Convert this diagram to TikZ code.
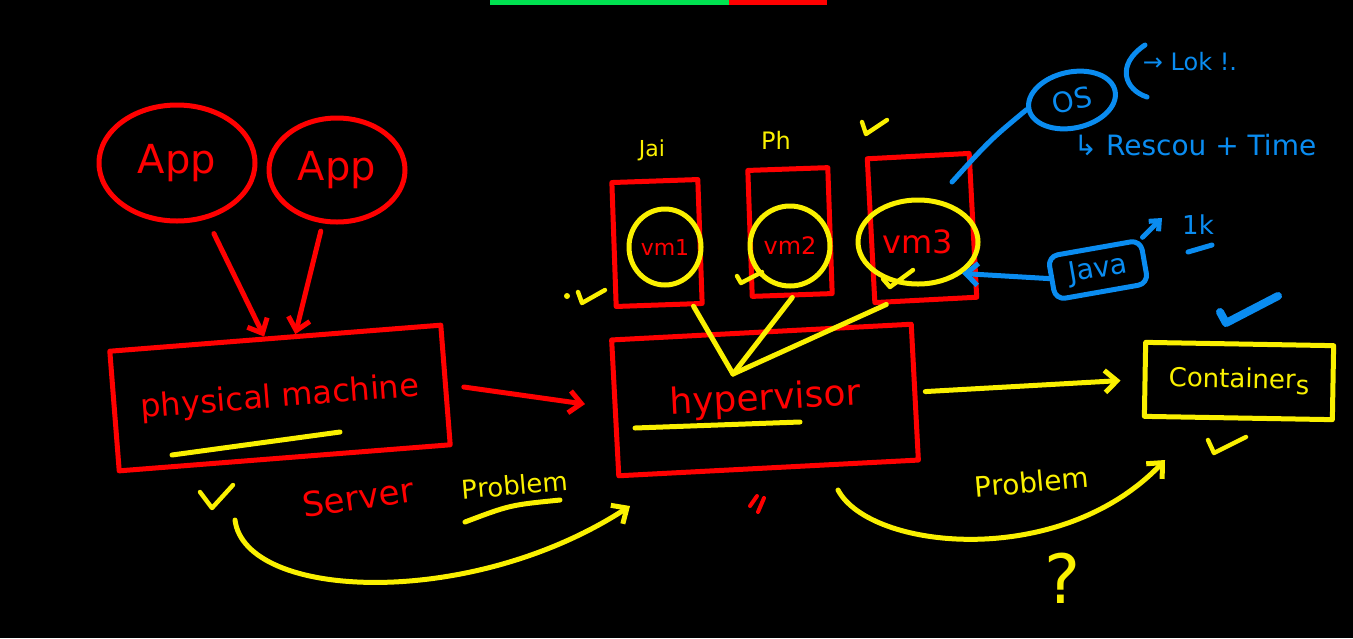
\documentclass[tikz,border=0pt]{standalone}
\usepackage{fontspec}
\setmainfont{DejaVu Sans}
\usetikzlibrary{shapes.geometric,arrows.meta}
\definecolor{inkred}{RGB}{255,0,0}
\definecolor{inkyellow}{RGB}{250,240,0}
\definecolor{inkblue}{RGB}{10,140,240}
\definecolor{bargreen}{RGB}{0,225,80}
\newcommand{\fs}[1]{\fontsize{#1}{#1}\selectfont}
\tikzset{
  pen/.style={line width=2.5pt, line cap=round, line join=round},
  redpen/.style={pen, draw=inkred},
  yellowpen/.style={pen, draw=inkyellow},
  bluepen/.style={pen, draw=inkblue},
  barb/.style={-{Straight Barb[length=6pt,width=11pt]}},
  box/.style={rectangle, inner sep=0pt},
  ball/.style={ellipse, inner sep=0pt},
  checkstroke/.style={pen, line width=2.2pt},
}
\begin{document}
\begin{tikzpicture}[x=0.5pt,y=-0.5pt]
\useasboundingbox (0,0) rectangle (1353,638);
\fill[black] (0,0) rectangle (1353,638);
\fill[bargreen] (490,0) rectangle (729,5);
\fill[inkred] (729,0) rectangle (827,5);

\node[ball, redpen, minimum width=78pt, minimum height=58pt, text=inkred, font=\fs{20}] (app1) at (177,163) {App};
\node[ball, redpen, minimum width=68pt, minimum height=52pt, text=inkred, font=\fs{20}] (app2) at (337,170) {App};
\node[box, redpen, rotate=4.5, minimum width=166pt, minimum height=60pt, text=inkred, font=\fs{16}] (phys) at (280,398) {physical machine};
\draw[yellowpen] (172,455) -- (340,432);
\draw[redpen, barb, shorten <=8pt] (app1.-62) -- (phys.100);
\draw[redpen, barb, shorten <=4pt] (app2.-105) -- (phys.72);

\node[box, redpen, rotate=3, minimum width=150pt, minimum height=68pt, text=inkred, font=\fs{18}] (hyper) at (765,400) {hypervisor};
\draw[yellowpen] (635,428) -- (800,422);
\draw[redpen, barb, shorten <=8pt, shorten >=14pt] (phys.east) -- (hyper.west);

\node[box, redpen, rotate=2, minimum width=43pt, minimum height=62pt] (vm1box) at (657,243) {};
\node[box, redpen, rotate=2, minimum width=40pt, minimum height=63pt] (vm2box) at (790,232) {};
\node[box, redpen, rotate=3, minimum width=51pt, minimum height=72pt] (vm3box) at (922,228) {};
\node[ball, yellowpen, minimum width=36pt, minimum height=38pt, text=inkred, font=\fs{11}] (vm1) at (665,247) {vm1};
\node[ball, yellowpen, minimum width=40pt, minimum height=40pt, text=inkred, font=\fs{12}] (vm2) at (790,246) {vm2};
\node[ball, yellowpen, minimum width=60pt, minimum height=42pt, text=inkred, font=\fs{16}] (vm3) at (918,242) {vm3};
\node[text=inkyellow, font=\fs{11}] (jai) at (652,150) {Jai};
\node[text=inkyellow, font=\fs{12}] (ph) at (776,140) {Ph};
\coordinate (hub) at (733,374);
\draw[yellowpen] (vm1box.-62) -- (hub);
\draw[yellowpen] (vm2box.south) -- (hub);
\draw[yellowpen] (vm3box.-118) -- (hub);

\node[ball, bluepen, rotate=12, minimum width=44pt, minimum height=28pt, text=inkblue, font=\fs{14}] (os) at (1072,100) {OS};
\coordinate (vm3tip) at (952,182);
\draw[bluepen] (vm3tip) .. controls (990,140) .. (os.west);
\draw[bluepen] (1145,45) .. controls (1115,65) and (1125,90) .. (1147,97);
\node[text=inkblue, font=\fs{12}] (lok) at (1190,62) {→ Lok !.};
\node[text=inkblue, font=\fs{14}] (rescou) at (1195,145) {↳ Rescou + Time};

\node[box, bluepen, rounded corners=5pt, rotate=10, minimum width=47pt, minimum height=22pt, text=inkblue, font=\fs{14}] (java) at (1098,270) {Java};
\draw[bluepen, barb] (java.west) -- (vm3.south east);
\coordinate (javatip) at (1162,218);
\draw[bluepen, -{Straight Barb[length=4pt,width=7pt]}] (java.north east) -- (javatip);
\node[text=inkblue, font=\fs{13}] (onek) at (1198,225) {1k};
\draw[bluepen] (1188,252) -- (1212,245);

\node[box, yellowpen, rotate=-1, minimum width=94pt, minimum height=37pt, text=inkyellow, font=\fs{13}] (cont) at (1239,381) {Container\raisebox{-0.4ex}{s}};
\draw[yellowpen, barb, shorten <=4pt, shorten >=11pt] (hyper.east) -- (cont.west);

\node[text=inkred, rotate=8, font=\fs{17}] (server) at (358,497) {Server};
\node[text=inkyellow, rotate=5, font=\fs{13}] (prob1) at (515,485) {Problem};
\draw[yellowpen] (465,522) .. controls (510,505) .. (560,500);
\coordinate (loopstart) at (235,520);
\coordinate (loopend) at (630,506);
\draw[yellowpen, barb] (loopstart) .. controls (245,600) and (470,610) .. (loopend);

\node[text=inkyellow, rotate=5, font=\fs{14}] (prob2) at (1032,482) {Problem};
\coordinate (arcstart) at (838,490);
\coordinate (arcend) at (1165,460);
\draw[yellowpen, barb] (arcstart) .. controls (870,550) and (1060,570) .. (arcend);
\node[text=inkyellow, font=\fs{34}] (ask) at (1063,578) {?};

\draw[yellowpen, checkstroke] (200,492) -- (212,508) -- (233,485);
\fill[inkyellow] (567,296) circle (1.5pt);
\draw[yellowpen, checkstroke] (578,292) -- (582,303) -- (605,290);
\draw[yellowpen, checkstroke] (862,122) -- (866,134) -- (887,120);
\draw[yellowpen, checkstroke] (737,276) -- (741,283) -- (762,272);
\draw[yellowpen, checkstroke] (883,279) -- (890,287) -- (913,270);
\draw[bluepen, line width=4pt] (1220,312) -- (1226,323) -- (1278,296);
\draw[yellowpen, checkstroke] (1208,440) -- (1214,453) -- (1246,437);
\draw[redpen, line width=2pt] (750,506) -- (757,496);
\draw[redpen, line width=2pt] (758,512) -- (764,498);
\end{tikzpicture}
\end{document}
